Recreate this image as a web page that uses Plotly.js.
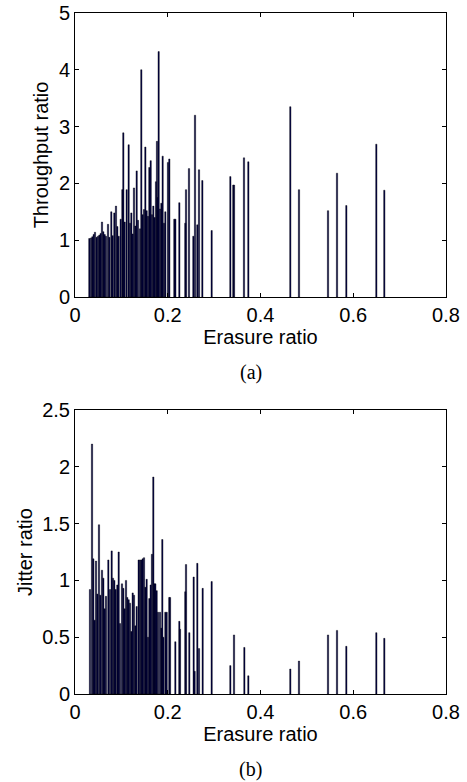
<!DOCTYPE html>
<html>
<head>
<meta charset="utf-8">
<script src="https://cdn.plot.ly/plotly-3.0.1.min.js"></script>
<style>html,body{margin:0;padding:0;background:#fff;}#chart{width:467px;height:782px;}</style>
</head>
<body>
<div id="chart"></div>
<script>
// Panel (a): erasure ratio vs throughput ratio
const erasureA = [0.0309,0.0345,0.0374,0.0403,0.0431,0.0467,0.0496,0.0525,0.0553,0.0582,0.0611,0.0640,0.0668,0.0712,0.0740,0.0783,0.0812,0.0848,0.0884,0.0913,0.0942,0.0985,0.1021,0.1042,0.1071,0.1114,0.1157,0.1186,0.1215,0.1244,0.1272,0.1301,0.1330,0.1358,0.1402,0.1430,0.1459,0.1488,0.1517,0.1545,0.1574,0.1603,0.1632,0.1660,0.1689,0.1718,0.1747,0.1768,0.1783,0.1804,0.1833,0.1862,0.1890,0.1919,0.1948,0.2005,0.2034,0.2142,0.2164,0.2250,0.2379,0.2394,0.2458,0.2552,0.2588,0.2638,0.2674,0.2746,0.2947,0.3350,0.3414,0.3429,0.3644,0.3738,0.4643,0.4830,0.5456,0.5650,0.5851,0.6498,0.6670];
const throughput = [1.03,1.04,1.06,1.10,1.14,1.05,1.07,1.09,1.12,1.32,1.15,1.10,1.07,1.28,1.05,1.50,1.08,1.48,1.60,1.24,1.07,1.37,1.89,2.89,1.32,1.89,2.68,1.30,1.48,1.11,1.92,1.25,2.22,1.35,1.20,4.00,1.45,1.54,2.64,1.52,1.42,2.28,2.40,1.45,1.60,1.40,2.03,2.74,1.75,4.32,1.55,1.65,2.48,1.30,1.50,2.37,2.43,1.37,1.37,1.66,1.30,1.89,2.26,1.07,3.20,1.27,2.24,2.05,1.17,2.12,1.97,1.97,2.45,2.38,3.35,1.89,1.52,2.18,1.61,2.69,1.88];

// Panel (b): erasure ratio vs jitter ratio
const erasureB = [0.0323,0.0367,0.0395,0.0424,0.0453,0.0482,0.0517,0.0546,0.0582,0.0611,0.0640,0.0668,0.0719,0.0755,0.0791,0.0819,0.0848,0.0877,0.0913,0.0942,0.0970,0.1013,0.1042,0.1071,0.1100,0.1128,0.1157,0.1186,0.1215,0.1244,0.1272,0.1301,0.1330,0.1373,0.1402,0.1430,0.1459,0.1488,0.1517,0.1545,0.1574,0.1603,0.1632,0.1660,0.1689,0.1711,0.1732,0.1761,0.1790,0.1833,0.1862,0.1883,0.1905,0.1948,0.1977,0.2034,0.2049,0.2164,0.2250,0.2264,0.2379,0.2394,0.2465,0.2559,0.2580,0.2638,0.2674,0.2753,0.2947,0.3350,0.3429,0.3652,0.3738,0.4643,0.4830,0.5456,0.5650,0.5851,0.6498,0.6670];
const jitter = [0.92,2.20,1.19,0.65,1.17,0.88,1.49,0.87,1.09,1.02,0.75,0.86,1.18,0.92,1.26,1.02,1.00,0.92,0.96,1.25,0.62,0.97,0.93,0.75,1.00,0.85,0.83,0.80,0.55,0.89,0.87,0.60,0.77,1.18,1.18,1.18,1.19,1.20,0.94,1.01,0.50,0.84,0.96,1.23,1.91,0.97,0.97,0.91,0.72,0.72,0.58,1.36,0.50,0.72,0.72,0.85,0.85,0.46,0.64,0.57,0.90,1.14,0.54,1.03,0.20,1.15,0.40,0.93,0.99,0.25,0.52,0.41,0.16,0.22,0.29,0.52,0.56,0.42,0.54,0.49];

const xTicks = [0, 0.2, 0.4, 0.6, 0.8];
const xTickText = ['0', '0.2', '0.4', '0.6', '0.8'];
const yTicksA = [0, 1, 2, 3, 4, 5];
const yTickTextA = ['0', '1', '2', '3', '4', '5'];
const yTicksB = [0, 0.5, 1, 1.5, 2, 2.5];
const yTickTextB = ['0', '0.5', '1', '1.5', '2', '2.5'];

const barStyle = {color: '#000048', line: {color: '#000000', width: 0.4}};
const traces = [
  {type: 'bar', x: erasureA, y: throughput, width: 0.0028, marker: barStyle, xaxis: 'x', yaxis: 'y', hoverinfo: 'x+y'},
  {type: 'bar', x: erasureB, y: jitter, width: 0.0028, marker: barStyle, xaxis: 'x2', yaxis: 'y2', hoverinfo: 'x+y'}
];

const sansFamily = '"Liberation Sans", Arial, Helvetica, sans-serif';
const tickFont = {family: sansFamily, size: 20, color: '#000'};
const titleFont = {family: sansFamily, size: 20, color: '#000'};
function xAxis(anchor) {
  return {
    domain: [0.1606, 0.955], range: [0, 0.8], anchor: anchor,
    tickvals: xTicks, ticktext: xTickText, ticks: 'inside', ticklen: 4, tickcolor: '#000',
    showline: true, linecolor: '#000', linewidth: 1, mirror: 'ticks', showgrid: false, zeroline: false,
    tickfont: tickFont, title: {text: 'Erasure ratio', font: titleFont, standoff: 0}
  };
}
function yAxis(anchor, domain, range, vals, text, title) {
  return {
    domain: domain, range: range, anchor: anchor,
    tickvals: vals, ticktext: text, ticks: 'inside', ticklen: 4, tickcolor: '#000',
    showline: true, linecolor: '#000', linewidth: 1, mirror: 'ticks', showgrid: false, zeroline: false,
    tickfont: tickFont, title: {text: title, font: titleFont, standoff: 4}
  };
}

const layout = {
  width: 467, height: 782,
  margin: {l: 0, r: 0, t: 0, b: 0},
  paper_bgcolor: '#fff', plot_bgcolor: '#fff',
  showlegend: false, bargap: 0,
  xaxis: xAxis('y'),
  yaxis: yAxis('x', [0.6202, 0.9834], [0, 5], yTicksA, yTickTextA, 'Throughput ratio'),
  xaxis2: xAxis('y2'),
  yaxis2: yAxis('x2', [0.1125, 0.4757], [0, 2.5], yTicksB, yTickTextB, 'Jitter ratio'),
  annotations: [
    {text: '(a)', xref: 'paper', yref: 'paper', x: 251/467, y: 1 - 372/782, xanchor: 'center', yanchor: 'middle', showarrow: false,
     font: {family: '"Liberation Serif", "Times New Roman", serif', size: 20, color: '#000'}},
    {text: '(b)', xref: 'paper', yref: 'paper', x: 251/467, y: 1 - 769/782, xanchor: 'center', yanchor: 'middle', showarrow: false,
     font: {family: '"Liberation Serif", "Times New Roman", serif', size: 20, color: '#000'}}
  ]
};

Plotly.newPlot('chart', traces, layout, {staticPlot: true, displayModeBar: false});
</script>
</body>
</html>
